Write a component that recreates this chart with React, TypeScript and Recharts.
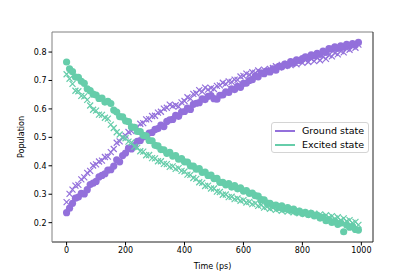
import React from "react"
import { ReferenceLine, Scatter, ScatterChart, XAxis, YAxis } from "recharts"

const PURPLE = "#9370DB"
const TEAL = "#66CDAA"
const FONT = "DejaVu Sans, sans-serif"

// sample times, one reading every 10 ps
const times = Array.from({ length: 100 }, (_, i) => i * 10)

const groundDots = [
  0.235, 0.251, 0.268, 0.286, 0.290, 0.303, 0.301, 0.316, 0.334, 0.339,
  0.345, 0.361, 0.366, 0.372, 0.385, 0.386, 0.399, 0.421, 0.414, 0.436,
  0.445, 0.462, 0.459, 0.471, 0.486, 0.489, 0.502, 0.503, 0.515, 0.517,
  0.528, 0.531, 0.543, 0.538, 0.556, 0.562, 0.563, 0.577, 0.574, 0.589,
  0.591, 0.603, 0.598, 0.616, 0.620, 0.622, 0.635, 0.633, 0.644, 0.647,
  0.636, 0.634, 0.648, 0.649, 0.660, 0.658, 0.671, 0.668, 0.679, 0.676,
  0.690, 0.691, 0.700, 0.703, 0.715, 0.713, 0.727, 0.724, 0.733, 0.730,
  0.741, 0.736, 0.750, 0.748, 0.758, 0.754, 0.766, 0.761, 0.773, 0.770,
  0.777, 0.783, 0.781, 0.790, 0.787, 0.795, 0.792, 0.803, 0.799, 0.812,
  0.810, 0.818, 0.813, 0.822, 0.817, 0.827, 0.821, 0.830, 0.826, 0.834,
]

const groundCrosses = [
  0.272, 0.301, 0.316, 0.330, 0.333, 0.352, 0.359, 0.375, 0.382, 0.401,
  0.405, 0.415, 0.418, 0.431, 0.432, 0.448, 0.459, 0.481, 0.486, 0.501,
  0.506, 0.519, 0.522, 0.534, 0.536, 0.548, 0.550, 0.563, 0.564, 0.575,
  0.576, 0.587, 0.590, 0.601, 0.604, 0.615, 0.610, 0.613, 0.608, 0.623,
  0.628, 0.641, 0.636, 0.653, 0.655, 0.666, 0.661, 0.675, 0.668, 0.673,
  0.670, 0.681, 0.683, 0.692, 0.688, 0.697, 0.695, 0.703, 0.702, 0.714,
  0.716, 0.724, 0.720, 0.729, 0.727, 0.735, 0.729, 0.738, 0.733, 0.741,
  0.744, 0.750, 0.746, 0.755, 0.751, 0.759, 0.754, 0.763, 0.757, 0.768,
  0.762, 0.771, 0.765, 0.775, 0.768, 0.779, 0.771, 0.783, 0.776, 0.789,
  0.785, 0.797, 0.792, 0.803, 0.799, 0.812, 0.808, 0.819, 0.815, 0.826,
]

const excitedDots = [
  0.765, 0.741, 0.731, 0.712, 0.711, 0.697, 0.690, 0.671, 0.664, 0.652,
  0.649, 0.637, 0.638, 0.624, 0.627, 0.619, 0.596, 0.589, 0.573, 0.572,
  0.558, 0.555, 0.537, 0.535, 0.521, 0.520, 0.507, 0.505, 0.489, 0.488,
  0.472, 0.470, 0.457, 0.456, 0.444, 0.447, 0.434, 0.436, 0.423, 0.425,
  0.414, 0.413, 0.400, 0.399, 0.388, 0.390, 0.377, 0.378, 0.366, 0.367,
  0.355, 0.356, 0.342, 0.342, 0.333, 0.337, 0.325, 0.330, 0.319, 0.322,
  0.311, 0.313, 0.303, 0.304, 0.295, 0.293, 0.281, 0.280, 0.269, 0.268,
  0.260, 0.262, 0.254, 0.259, 0.249, 0.253, 0.244, 0.248, 0.237, 0.241,
  0.233, 0.236, 0.229, 0.233, 0.224, 0.226, 0.216, 0.219, 0.207, 0.210,
  0.201, 0.205, 0.194, 0.199, 0.168, 0.192, 0.184, 0.187, 0.176, 0.174,
]

const excitedCrosses = [
  0.722, 0.706, 0.688, 0.664, 0.662, 0.646, 0.644, 0.632, 0.612, 0.597,
  0.594, 0.580, 0.579, 0.569, 0.566, 0.545, 0.533, 0.518, 0.510, 0.499,
  0.497, 0.485, 0.482, 0.467, 0.464, 0.451, 0.450, 0.437, 0.438, 0.427,
  0.426, 0.416, 0.416, 0.407, 0.406, 0.396, 0.398, 0.389, 0.392, 0.382,
  0.380, 0.369, 0.368, 0.357, 0.354, 0.342, 0.340, 0.329, 0.330, 0.320,
  0.320, 0.309, 0.308, 0.298, 0.299, 0.290, 0.291, 0.283, 0.285, 0.277,
  0.279, 0.271, 0.273, 0.265, 0.268, 0.259, 0.262, 0.253, 0.256, 0.249,
  0.252, 0.245, 0.249, 0.242, 0.246, 0.239, 0.244, 0.236, 0.241, 0.233,
  0.237, 0.230, 0.235, 0.227, 0.232, 0.224, 0.229, 0.220, 0.226, 0.218,
  0.223, 0.214, 0.219, 0.209, 0.215, 0.205, 0.209, 0.199, 0.203, 0.192,
]

const xTicks = [0, 200, 400, 600, 800, 1000]
const yTicks = [0.2, 0.3, 0.4, 0.5, 0.6, 0.7, 0.8]
const xDomain = [-49.5, 1039.5]
const yDomain = [0.132, 0.8705]

const legendItems = [
  { name: "Ground state", color: PURPLE },
  { name: "Excited state", color: TEAL },
]

const toPoints = (values: number[]) => values.map((y, i) => ({ x: times[i], y }))

const dotShape = (color: string) => (props: any) =>
  <circle cx={props.cx} cy={props.cy} r={3.6} fill={color} />

const crossShape = (color: string) => (props: any) => {
  const { cx, cy } = props
  const s = 3
  return (
    <path
      d={`M${cx - s},${cy - s}L${cx + s},${cy + s}M${cx + s},${cy - s}L${cx - s},${cy + s}`}
      stroke={color}
      strokeWidth={1.2}
      fill="none"
    />
  )
}

const tickStyle = { fontSize: 8, fill: "#000", fontFamily: FONT }

export default function App() {
  return (
    <div style={{ position: "absolute", left: 0, top: 0, width: 415, height: 277, background: "#fff" }}>
      <ScatterChart width={415} height={277} margin={{ top: 32, right: 42, bottom: 0, left: 0 }}>
        <XAxis
          dataKey="x"
          type="number"
          domain={xDomain}
          ticks={xTicks}
          allowDataOverflow
          height={35}
          stroke="#222"
          tickSize={3.5}
          tickMargin={2}
          tick={tickStyle}
          tickLine={{ stroke: "#000" }}
          label={{
            content: () => (
              <text x={212.5} y={269} textAnchor="middle" fontSize={8} fontFamily={FONT} fill="#000">
                Time (ps)
              </text>
            ),
          }}
        />
        <YAxis
          dataKey="y"
          type="number"
          domain={yDomain}
          ticks={yTicks}
          allowDataOverflow
          width={52}
          stroke="#808080"
          tickSize={3.5}
          tickMargin={2}
          tick={tickStyle}
          tickLine={{ stroke: "#000" }}
          tickFormatter={(v: number) => v.toFixed(1)}
          label={{
            content: () => (
              <text
                x={21}
                y={137}
                transform="rotate(-90 21 137)"
                textAnchor="middle"
                dominantBaseline="central"
                fontSize={8}
                fontFamily={FONT}
                fill="#000"
              >
                Population
              </text>
            ),
          }}
        />
        <ReferenceLine y={yDomain[1]} stroke="#808080" />
        <ReferenceLine x={xDomain[1]} stroke="#222" />
        <Scatter data={toPoints(groundDots)} shape={dotShape(PURPLE)} isAnimationActive={false} />
        <Scatter data={toPoints(groundCrosses)} shape={crossShape(PURPLE)} isAnimationActive={false} />
        <Scatter data={toPoints(excitedDots)} shape={dotShape(TEAL)} isAnimationActive={false} />
        <Scatter data={toPoints(excitedCrosses)} shape={crossShape(TEAL)} isAnimationActive={false} />
      </ScatterChart>
      <div
        style={{
          position: "absolute",
          left: 271,
          top: 122,
          width: 96,
          height: 29,
          border: "1px solid #d4d4d4",
          borderRadius: 3,
          background: "rgba(255,255,255,0.8)",
          fontFamily: FONT,
          fontSize: 9.5,
        }}
      >
        {legendItems.map((item, i) => (
          <div key={item.name} style={{ position: "absolute", left: 0, top: 1 + i * 14, height: 13, width: 96 }}>
            <div style={{ position: "absolute", left: 3, top: 6, width: 20, height: 2, background: item.color }} />
            <div style={{ position: "absolute", left: 30, top: 0, lineHeight: "13px", color: "#000", whiteSpace: "nowrap" }}>
              {item.name}
            </div>
          </div>
        ))}
      </div>
    </div>
  )
}
